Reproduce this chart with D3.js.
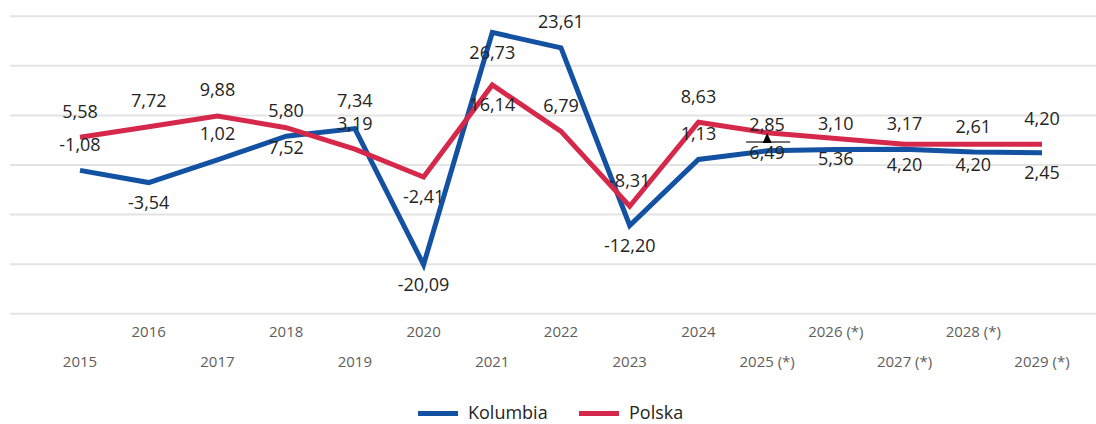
<!DOCTYPE html>
<html><head><meta charset="utf-8">
<script src="https://cdn.jsdelivr.net/npm/d3@7"></script>
<style>
html,body{margin:0;padding:0;background:#fff;}
svg{display:block;font-family:"Open Sans","Noto Sans",sans-serif;}
</style></head>
<body>
<svg id="chart" width="1096" height="424"></svg>
<script>
const years = ["2015","2016","2017","2018","2019","2020","2021","2022","2023","2024","2025 (*)","2026 (*)","2027 (*)","2028 (*)","2029 (*)"];
const kolumbia = [-1.08,-3.54,1.02,5.80,7.34,-20.09,26.73,23.61,-12.20,1.13,2.85,3.10,3.17,2.61,2.45];
const polska   = [5.58,7.72,9.88,7.52,3.19,-2.41,16.14,6.79,-8.31,8.63,6.49,5.36,4.20,4.20,4.20];
const yTicks = [-30,-20,-10,0,10,20,30];
const seriesNames = ["Kolumbia","Polska"];
const colors = ["#1351A2","#D5284B"];
// label placement (layout only): "a" above, "b" below
const kolPlace = ["a","b","a","a","a","b","b","a","b","a","a","a","a","a","b"];
const polPlace = ["a","a","a","b","a","b","b","a","a","a","b","b","b","b","a"];

const svg = d3.select("#chart");
const x = d3.scalePoint().domain(years).range([80,1042]);
const y = d3.scaleLinear().domain([-30,30]).range([313.8,16.2]);

// gridlines
svg.append("g").selectAll("line").data(yTicks).join("line")
  .attr("x1",10).attr("x2",1096)
  .attr("y1",d=>y(d)).attr("y2",d=>y(d))
  .attr("stroke","#E3E3E3").attr("stroke-width",2);

// x axis labels (staggered)
const xAxis = svg.append("g");
xAxis.selectAll("text").data(years).join("text")
  .attr("x",d=>x(d))
  .attr("y",(d,i)=> i%2===1 ? 337 : 367)
  .attr("text-anchor","middle")
  .attr("font-size",15)
  .attr("fill","#605E5C")
  .text(d=>d);

const line = d3.line().x((d,i)=>x(years[i])).y(d=>y(d));
const data = [kolumbia, polska];
data.forEach((vals,k)=>{
  svg.append("path").datum(vals)
    .attr("d",line)
    .attr("fill","none")
    .attr("stroke",colors[k])
    .attr("stroke-width",5)
    .attr("stroke-linejoin","miter")
    .attr("stroke-linecap","butt");
});

// cursor-like marker artifact near 2025
const cx = x(years[10]);
svg.append("line").attr("x1",cx-21).attr("x2",cx+23).attr("y1",142).attr("y2",142)
  .attr("stroke","#444").attr("stroke-width",1.5);
svg.append("path").attr("d",d3.line()([[cx,133],[cx-4.5,143],[cx+4.5,143]])+"Z").attr("fill","#000");

// data labels
const fmt = v => v.toFixed(2).replace(".",",");
const places = [kolPlace, polPlace];
data.forEach((vals,k)=>{
  svg.append("g").selectAll("text").data(vals).join("text")
    .attr("x",(d,i)=>x(years[i]))
    .attr("y",(d,i)=> places[k][i]==="a" ? y(d)-(k===0 && i===4 ? 22 : 19.5) : y(d)+26.5)
    .attr("text-anchor","middle")
    .attr("font-size",18)
    .attr("fill","#252423")
    .text(d=>fmt(d));
});

// legend
const legend = svg.append("g");
const legX = [418,579];
seriesNames.forEach((n,k)=>{
  legend.append("line").attr("x1",legX[k]).attr("x2",legX[k]+40)
    .attr("y1",413.5).attr("y2",413.5).attr("stroke",colors[k]).attr("stroke-width",5);
  legend.append("text").attr("x",legX[k]+50).attr("y",419)
    .attr("font-size",18).attr("fill","#252423").text(n);
});
</script>
</body></html>
